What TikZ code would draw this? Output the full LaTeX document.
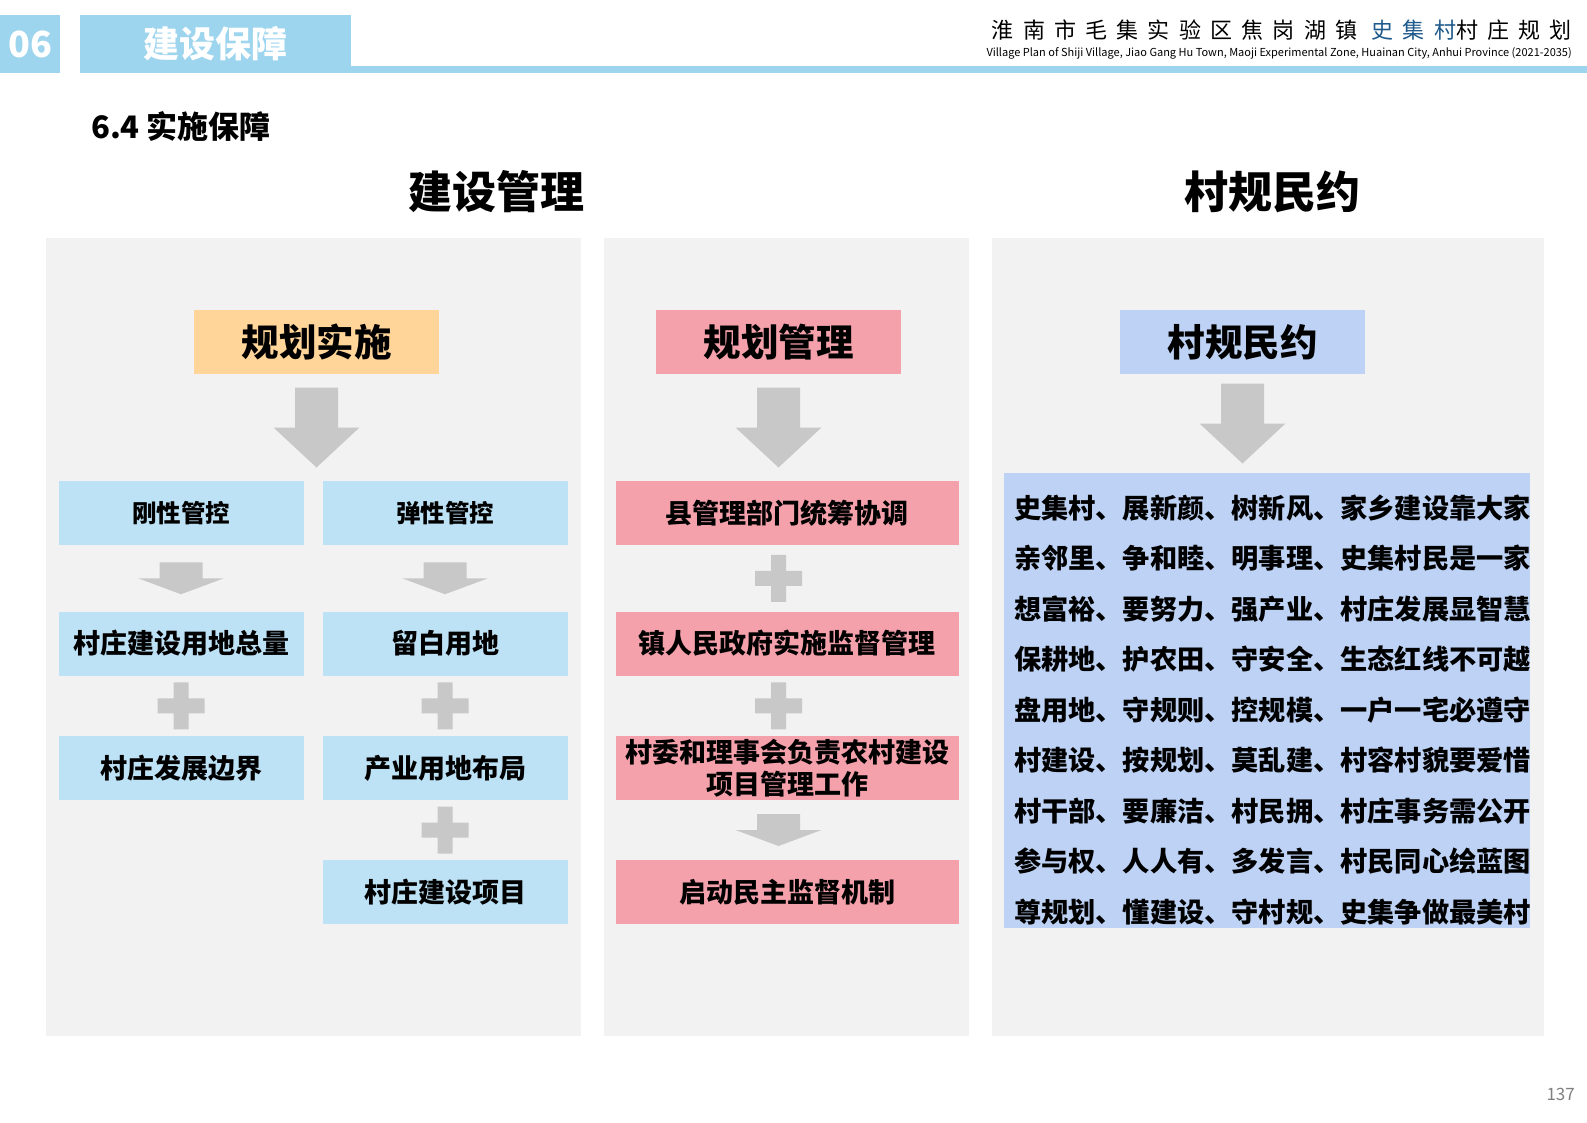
\documentclass[tikz,border=0pt]{standalone}
\usepackage{fontspec}
\usetikzlibrary{calc}
\newfontfamily\cjk{Noto Sans CJK SC}
\newfontfamily\cjkwide{Noto Sans CJK SC}[LetterSpace=42]
\IfFontExistsTF{Noto Sans CJK SC Black}
  {\newfontfamily\cjkheavy{Noto Sans CJK SC Black}}
  {\newfontfamily\cjkheavy{Noto Sans CJK SC}[UprightFont=*, UprightFeatures={FakeBold=1.5}]}

\definecolor{bannerblue}{RGB}{157,212,238}
\definecolor{panelgray}{RGB}{242,242,242}
\definecolor{planorange}{RGB}{255,213,153}
\definecolor{planpink}{RGB}{244,161,172}
\definecolor{boxblue}{RGB}{189,225,245}
\definecolor{rulesblue}{RGB}{189,210,244}
\definecolor{arrowgray}{RGB}{200,200,200}
\definecolor{villageblue}{RGB}{30,90,140}

\tikzstyle{banner}=[fill=bannerblue]
\tikzstyle{banner text}=[white, font=\cjk\bfseries\fontsize{36}{40}\selectfont]
\tikzstyle{panel}=[fill=panelgray]
\tikzstyle{connector}=[fill=arrowgray]
\tikzstyle{title}=[font=\cjkheavy\fontsize{44}{48}\selectfont]
\tikzstyle{head box}=[inner sep=0pt, minimum width=245, minimum height=64, font=\cjkheavy\fontsize{37.5}{40}\selectfont]
\tikzstyle{item}=[inner sep=0pt, minimum height=64, align=center, font=\cjkheavy\fontsize{27}{32}\selectfont]
\tikzstyle{item blue}=[item, fill=boxblue, minimum width=245]
\tikzstyle{item pink}=[item, fill=planpink, minimum width=343]
\tikzstyle{item small}=[font=\cjkheavy\fontsize{24.5}{28}\selectfont]
\tikzstyle{rules box}=[fill=rulesblue, minimum width=526, minimum height=455, inner xsep=10pt, inner ysep=0pt, text width=506, align=left, font=\cjkheavy\fontsize{27.2}{50.5}\selectfont]

% x of column node, upper node, lower node, length
\newcommand{\blockdown}[4]{%
  \fill[connector,shift={($(#1.south |- #2.south)!.5!(#1.south |- #3.north)$)},yscale=#4]
    (-21.5,-40) -- (21.5,-40) -- (21.5,0) -- (43,0) -- (0,40) -- (-43,0) -- (-21.5,0) -- cycle;}
% x of column node, upper node, lower node
\newcommand{\plusjoin}[3]{%
  \fill[connector,shift={($(#1.south |- #2.south)!.5!(#1.south |- #3.north)$)}]
    (-7.5,-23.5) rectangle (7.5,23.5) (-23.5,-7.5) rectangle (23.5,7.5);}

\begin{document}
\begin{tikzpicture}[x=1pt,y=-1pt]
    \fill[white,use as bounding box] (0,0) rectangle (1587,1122);

    % Banner
    \fill[banner] (0,15) rectangle (60,73);
    \fill[banner] (80,15) rectangle (351,73);
    \fill[banner] (351,66) rectangle (1587,73);
    \draw (30,44) node[banner text] (num) {06};
    \draw (215,44) node[banner text] (chap) {建设保障};
    \draw (1572,30) node[anchor=east, inner sep=0pt, font=\cjkwide\fontsize{22}{24}\selectfont] (plancn) {淮南市毛集实验区焦岗湖镇 \textcolor{villageblue}{史集村}村庄规划};
    \draw (1572,53) node[anchor=east, inner sep=0pt, font=\cjk\fontsize{11}{12}\selectfont] (planen) {Village Plan of Shiji Village, Jiao Gang Hu Town, Maoji Experimental Zone, Huainan City, Anhui Province (2021-2035)};
    \draw (91,126) node[anchor=west, inner sep=0pt, font=\cjk\bfseries\fontsize{31}{34}\selectfont] (sec) {6.4 实施保障};

    % Titles
    \draw (496,192) node[title] (jsgl) {建设管理};
    \draw (1272,192) node[title] (cgmy) {村规民约};

    % Panels
    \fill[panel] (45.5,237.5) rectangle (581,1036);
    \fill[panel] (603.5,237.5) rectangle (968.5,1036);
    \fill[panel] (992,237.5) rectangle (1544,1036);

    % Heads
    \draw (316.5,342) node[head box, fill=planorange] (gh) {规划实施};
    \draw (778.5,342) node[head box, fill=planpink] (gl) {规划管理};
    \draw (1242.5,342) node[head box, fill=rulesblue] (cg) {村规民约};

    % Planning
    \draw (181,513) node[item blue, item small] (gx) {刚性管控};
    \draw (445,513) node[item blue, item small] (tx) {弹性管控};
    \draw (181,643.5) node[item blue] (zl) {村庄建设用地总量};
    \draw (445,643.5) node[item blue] (lb) {留白用地};
    \draw (181,768) node[item blue] (bj) {村庄发展边界};
    \draw (445,768) node[item blue] (cy) {产业用地布局};
    \draw (445,892) node[item blue] (xm) {村庄建设项目};

    % Management
    \draw (787,513) node[item pink] (xg) {县管理部门统筹协调};
    \draw (787,643.5) node[item pink] (zr) {镇人民政府实施监督管理};
    \draw (787,768) node[item pink] (cw) {村委和理事会负责农村建设\\项目管理工作};
    \draw (787,892) node[item pink] (qd) {启动民主监督机制};

    % Rules
    \draw (1267,700.5) node[rules box] (gy) {\rule{0pt}{42pt}史集村、展新颜、树新风、家乡建设靠大家\\
      亲邻里、争和睦、明事理、史集村民是一家\\
      想富裕、要努力、强产业、村庄发展显智慧\\
      保耕地、护农田、守安全、生态红线不可越\\
      盘用地、守规则、控规模、一户一宅必遵守\\
      村建设、按规划、莫乱建、村容村貌要爱惜\\
      村干部、要廉洁、村民拥、村庄事务需公开\\
      参与权、人人有、多发言、村民同心绘蓝图\\
      尊规划、懂建设、守村规、史集争做最美村};

    % Connectors
    \blockdown{gh}{gh}{gx}{1}
    \blockdown{gx}{gx}{zl}{.4}
    \blockdown{tx}{tx}{lb}{.4}
    \plusjoin{zl}{zl}{bj}
    \plusjoin{lb}{lb}{cy}
    \plusjoin{cy}{cy}{xm}
    \blockdown{gl}{gl}{xg}{1}
    \plusjoin{gl}{xg}{zr}
    \plusjoin{gl}{zr}{cw}
    \blockdown{gl}{cw}{qd}{.4}
    \blockdown{cg}{cg}{gy}{1}

    \draw (1575,1094) node[anchor=east, inner sep=0pt, gray, font=\cjk\fontsize{17}{18}\selectfont] (page) {137};
\end{tikzpicture}
\end{document}
